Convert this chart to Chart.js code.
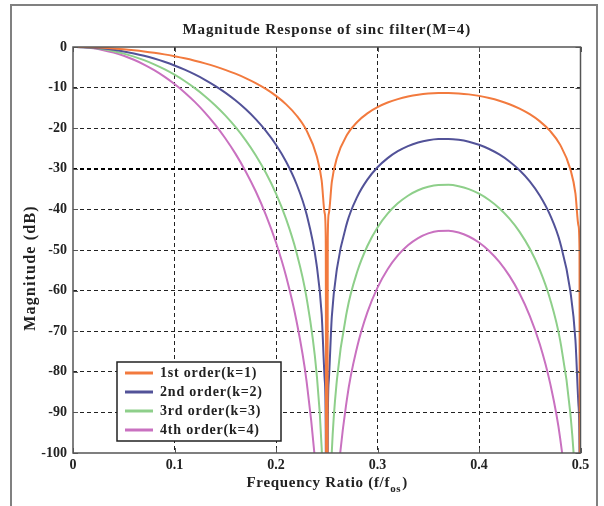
<!DOCTYPE html>
<html lang="en">
<head>
    <meta charset="UTF-8">
    <title>Magnitude Response of sinc filter</title>
    <script src="https://cdn.jsdelivr.net/npm/chart.js"></script>
    <style>
        body { margin: 0; background: #fff; }
    </style>
</head>
<body>
    <canvas id="myChart" width="604" height="506"></canvas>

    <script>
        // frequency ratio f/fos, denser near the nulls
        const freq = [0, 0.01, 0.02, 0.03, 0.04, 0.05, 0.06, 0.07, 0.08, 0.09, 0.10, 0.11, 0.12, 0.13, 0.14, 0.15, 0.16, 0.17, 0.18, 0.19, 0.20, 0.21, 0.22, 0.23, 0.24,
            0.245, 0.248, 0.249, 0.25, 0.251, 0.252, 0.255,
            0.26, 0.27, 0.28, 0.29, 0.30, 0.31, 0.32, 0.33, 0.34, 0.35, 0.36, 0.37, 0.38, 0.39, 0.40, 0.41, 0.42, 0.43, 0.44, 0.45, 0.46, 0.47, 0.48, 0.49,
            0.495, 0.498, 0.499, 0.5];

        // magnitude in dB for each order (values past -100 are cut off by the axis)
        const order1 = [0, -0.02, -0.09, -0.19, -0.35, -0.54, -0.79, -1.08, -1.42, -1.82, -2.28, -2.79, -3.38, -4.04, -4.78, -5.62, -6.57, -7.65, -8.89, -10.33, -12.04, -14.13, -16.81, -20.54, -26.79,
            -32.93, -40.97, -47.02, -250, -47.07, -41.08, -33.21,
            -27.33, -21.63, -18.46, -16.34, -14.82, -13.68, -12.84, -12.21, -11.76, -11.47, -11.33, -11.31, -11.43, -11.67, -12.04, -12.56, -13.23, -14.09, -15.18, -16.55, -18.32, -20.68, -24.11, -30.08,
            -36.08, -44.04, -50.06, -250];
        const order2 = [0, -0.04, -0.17, -0.39, -0.69, -1.09, -1.58, -2.16, -2.85, -3.64, -4.55, -5.59, -6.76, -8.07, -9.56, -11.24, -13.13, -15.29, -17.77, -20.66, -24.08, -28.27, -33.62, -41.07, -53.58,
            -65.87, -81.94, -94.04, -250, -94.14, -82.16, -66.42,
            -54.67, -43.26, -36.91, -32.68, -29.63, -27.37, -25.67, -24.42, -23.53, -22.95, -22.66, -22.63, -22.85, -23.33, -24.08, -25.12, -26.47, -28.19, -30.36, -33.10, -36.63, -41.37, -48.22, -60.15,
            -72.16, -88.07, -100.11, -250];
        const order3 = [0, -0.06, -0.26, -0.58, -1.04, -1.63, -2.36, -3.24, -4.27, -5.47, -6.83, -8.38, -10.13, -12.11, -14.34, -16.85, -19.70, -22.94, -26.66, -30.99, -36.12, -42.40, -50.43, -61.61, -80.36,
            -98.80, -122.91, -141.06, -250, -141.21, -123.24, -99.63,
            -82.00, -64.89, -55.37, -49.02, -44.45, -41.05, -38.51, -36.63, -35.29, -34.42, -33.98, -33.94, -34.28, -35.00, -36.12, -37.67, -39.70, -42.28, -45.53, -49.65, -54.95, -62.05, -72.33, -90.23,
            -108.25, -132.11, -150.17, -250];
        const order4 = [0, -0.09, -0.34, -0.78, -1.38, -2.17, -3.15, -4.32, -5.70, -7.29, -9.11, -11.18, -13.51, -16.15, -19.12, -22.47, -26.26, -30.58, -35.54, -41.32, -48.16, -56.53, -67.24, -82.14, -107.15,
            -131.74, -163.88, -188.08, -250, -188.28, -164.32, -132.84,
            -109.34, -86.52, -73.83, -65.36, -59.26, -54.74, -51.34, -48.83, -47.05, -45.90, -45.31, -45.25, -45.70, -46.67, -48.16, -50.23, -52.93, -56.38, -60.71, -66.20, -73.26, -82.73, -96.44, -120.30,
            -144.33, -176.15, -200.23, -250];

        const seriesLabels = ['1st order(k=1)', '2nd order(k=2)', '3rd order(k=3)', '4th order(k=4)'];
        const seriesColors = ['#f27a3e', '#525298', '#8ecf8a', '#c971c0'];
        const xTicks = [0, 0.1, 0.2, 0.3, 0.4, 0.5];
        const yTicks = [0, -10, -20, -30, -40, -50, -60, -70, -80, -90, -100];

        const serif = '"Liberation Serif", "Times New Roman", serif';

        function toPoints(values) {
            return freq.map((f, i) => ({ x: f, y: values[i] }));
        }

        // frame, plot box, inward ticks, titles and legend
        const decor = {
            id: 'decor',
            afterDraw(chart) {
                const c = chart.ctx;
                const a = chart.chartArea;
                const xs = chart.scales.x;
                const ys = chart.scales.y;
                c.save();

                // outer frame
                c.strokeStyle = '#808080';
                c.lineWidth = 2;
                c.beginPath();
                c.moveTo(11, 510);
                c.lineTo(11, 5);
                c.lineTo(597, 5);
                c.lineTo(597, 510);
                c.stroke();

                // plot box + ticks
                c.strokeStyle = '#555';
                c.lineWidth = 1.5;
                c.strokeRect(a.left, a.top, a.right - a.left, a.bottom - a.top);
                c.lineWidth = 1;
                c.beginPath();
                xTicks.forEach(v => {
                    const px = Math.round(xs.getPixelForValue(v)) + 0.5;
                    c.moveTo(px, a.bottom); c.lineTo(px, a.bottom - 5);
                    c.moveTo(px, a.top); c.lineTo(px, a.top + 5);
                });
                yTicks.forEach(v => {
                    const py = Math.round(ys.getPixelForValue(v)) + 0.5;
                    c.moveTo(a.left, py); c.lineTo(a.left + 5, py);
                    c.moveTo(a.right, py); c.lineTo(a.right - 5, py);
                });
                c.stroke();

                c.fillStyle = '#222';
                c.textBaseline = 'middle';
                c.textAlign = 'center';

                // title
                c.font = 'bold 15px ' + serif;
                c.letterSpacing = '0.9px';
                c.fillText('Magnitude Response of sinc filter(M=4)', (a.left + a.right) / 2, 30);

                // y axis title
                c.save();
                c.font = 'bold 16px ' + serif;
                c.letterSpacing = '1.2px';
                c.translate(31, 268);
                c.rotate(-Math.PI / 2);
                c.fillText('Magnitude (dB)', 0, 0);
                c.restore();

                // x axis title with subscript
                c.letterSpacing = '0.7px';
                const main = 'Frequency Ratio (f/f';
                c.font = 'bold 15px ' + serif;
                const w1 = c.measureText(main).width;
                c.font = 'bold 11px ' + serif;
                const w2 = c.measureText('os').width;
                c.font = 'bold 15px ' + serif;
                const w3 = c.measureText(')').width;
                const x0 = (a.left + a.right) / 2 - (w1 + w2 + w3) / 2;
                const ty = 483;
                c.textAlign = 'left';
                c.fillText(main, x0, ty);
                c.font = 'bold 11px ' + serif;
                c.fillText('os', x0 + w1, ty + 6);
                c.font = 'bold 15px ' + serif;
                c.fillText(')', x0 + w1 + w2 + 1, ty);

                // legend
                const lx = 117, ly = 362, lw = 164, lh = 79;
                c.fillStyle = '#fff';
                c.fillRect(lx, ly, lw, lh);
                c.strokeStyle = '#222';
                c.lineWidth = 1.5;
                c.strokeRect(lx, ly, lw, lh);
                c.letterSpacing = '0.8px';
                chart.data.datasets.forEach((ds, i) => {
                    const y = ly + 11 + i * 19;
                    c.strokeStyle = ds.borderColor;
                    c.lineWidth = 3;
                    c.beginPath();
                    c.moveTo(lx + 8, y);
                    c.lineTo(lx + 36, y);
                    c.stroke();
                    c.fillStyle = '#222';
                    c.font = 'bold 14px ' + serif;
                    c.textAlign = 'left';
                    c.fillText(ds.label, lx + 43, y);
                });

                c.restore();
            }
        };

        const gridColor = ctx => {
            const v = ctx.tick ? ctx.tick.value : null;
            if (v === 0 || v === -100 || v === 0.5) return 'rgba(0,0,0,0)';
            return v === -30 ? '#000' : '#222';
        };

        const ctx = document.getElementById('myChart').getContext('2d');
        const chart = new Chart(ctx, {
            type: 'line',
            data: {
                datasets: [order1, order2, order3, order4].map((values, i) => ({
                    label: seriesLabels[i],
                    data: toPoints(values),
                    borderColor: seriesColors[i],
                    backgroundColor: seriesColors[i],
                    borderWidth: 2,
                    pointRadius: 0,
                    cubicInterpolationMode: 'monotone',
                    fill: false
                }))
            },
            options: {
                responsive: false,
                animation: false,
                layout: {
                    padding: { left: 0, right: 23.5, top: 47, bottom: 0 }
                },
                plugins: {
                    legend: { display: false },
                    title: { display: false },
                    tooltip: { enabled: false }
                },
                scales: {
                    x: {
                        type: 'linear',
                        min: 0,
                        max: 0.5,
                        afterBuildTicks: scale => { scale.ticks = xTicks.map(v => ({ value: v })); },
                        afterFit: scale => { scale.height = 53; },
                        ticks: {
                            padding: 4,
                            color: '#222',
                            font: { family: serif, size: 14, weight: 'bold' },
                            callback: v => v === 0 ? '0' : v.toFixed(1)
                        },
                        grid: {
                            color: gridColor,
                            lineWidth: 1,
                            drawTicks: false
                        },
                        border: { display: false, dash: [4, 3] }
                    },
                    y: {
                        min: -100,
                        max: 0,
                        afterBuildTicks: scale => { scale.ticks = yTicks.map(v => ({ value: v })); },
                        afterFit: scale => { scale.width = 73; },
                        ticks: {
                            padding: 6,
                            color: '#222',
                            font: { family: serif, size: 14, weight: 'bold' }
                        },
                        grid: {
                            color: gridColor,
                            lineWidth: ctx => (ctx.tick && ctx.tick.value === -30) ? 2 : 1,
                            drawTicks: false
                        },
                        border: { display: false, dash: [4, 3] }
                    }
                }
            },
            plugins: [decor]
        });
    </script>
</body>
</html>
